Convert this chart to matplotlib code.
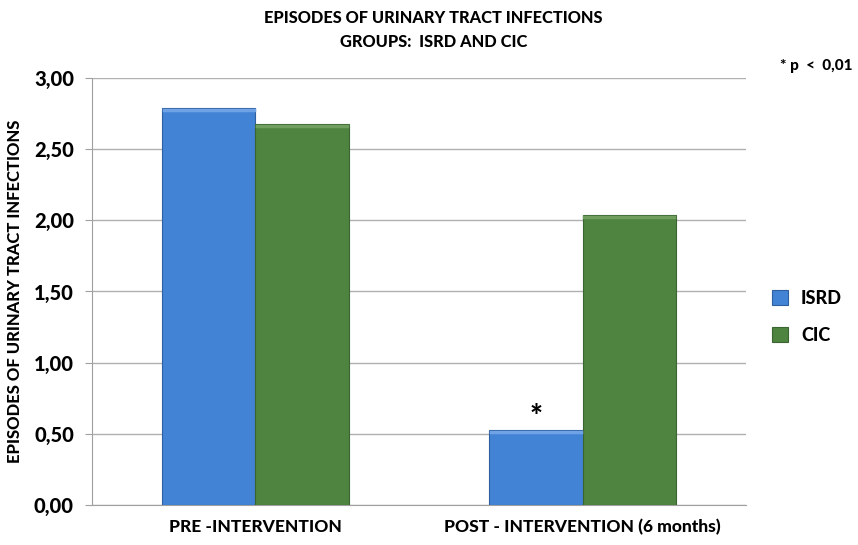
import matplotlib.pyplot as plt
import numpy as np

# datos
categories = ['PRE -INTERVENTION', 'POST - INTERVENTION (6 months)']
isrd = [2.79, 0.53]
cic = [2.68, 2.04]
yticks = [0, 0.5, 1.0, 1.5, 2.0, 2.5, 3.0]
ytick_labels = ['0,00', '0,50', '1,00', '1,50', '2,00', '2,50', '3,00']

plt.rcParams['font.family'] = ['Lato', 'DejaVu Sans']
W = 'black'

fig = plt.figure(figsize=(8.58, 5.45), dpi=100)
ax = fig.add_axes([0.1072, 0.0734, 0.7623, 0.7835])

x = np.arange(len(categories))
w = 0.285
b1 = ax.bar(x - w/2, isrd, w, color='#4383d6', edgecolor='#2f5f9e', linewidth=0.8, label='ISRD', zorder=3)
b2 = ax.bar(x + w/2, cic, w, color='#4e843f', edgecolor='#3a6530', linewidth=0.8, label='CIC', zorder=3)

# borde claro arriba (efecto bisel)
for bars, c in ((b1, '#6fa3e6'), (b2, '#6f9e5f')):
    for r in bars:
        ax.plot([r.get_x() + 0.005, r.get_x() + r.get_width() - 0.005],
                [r.get_height() - 0.015] * 2, color=c, lw=2.5, zorder=4)

ax.text(x[1] - w/2, isrd[1] - 0.01, '*', ha='center', va='bottom', fontsize=22, fontweight=W)

ax.set_xlim(-0.5, 1.5)
ax.set_ylim(0, 3.0)
ax.set_yticks(yticks)
ax.set_yticklabels(ytick_labels, fontsize=14.5, fontweight=W)
ax.set_xticks(x)
ax.set_xticklabels(categories, fontsize=12.5, fontweight=W)
ax.tick_params(axis='x', length=0, pad=10)
ax.tick_params(axis='y', length=5, color='#a0a0a0', pad=8)
ax.grid(axis='y', color='#b0b0b0', linewidth=1, zorder=0)
for s in ['top', 'right']:
    ax.spines[s].set_visible(False)
ax.spines['left'].set_color('#a0a0a0')
ax.spines['bottom'].set_color('#a0a0a0')
ax.set_ylabel('EPISODES OF URINARY TRACT INFECTIONS', fontsize=12, fontweight=W, labelpad=8)

fig.text(0.505, 0.967, 'EPISODES OF URINARY TRACT INFECTIONS', ha='center', va='center', fontsize=11.8, fontweight=W)
fig.text(0.505, 0.923, 'GROUPS:  ISRD AND CIC', ha='center', va='center', fontsize=11.8, fontweight=W)
fig.text(0.909, 0.879, '* p  <  0,01', ha='left', va='center', fontsize=11, fontweight=W)

leg = ax.legend(loc='center left', bbox_to_anchor=(1.015, 0.44), frameon=False, fontsize=13,
                handlelength=0.9, handleheight=0.9, labelspacing=1.1, handletextpad=0.7)
for t in leg.get_texts():
    t.set_fontweight(W)

plt.savefig('out.png', dpi=100)
